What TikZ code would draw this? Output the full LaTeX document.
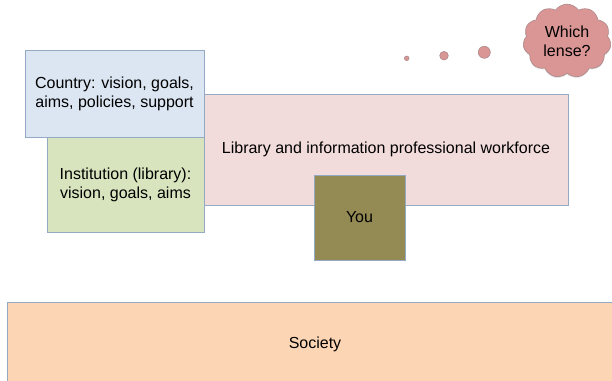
\documentclass[tikz,border=0pt]{standalone}
\usepackage{fontspec}
\setmainfont{Liberation Sans}
\usetikzlibrary{shapes.symbols,shadows}

\definecolor{edgeblue}{HTML}{93A9C4}
\definecolor{countryfill}{HTML}{DCE6F2}
\definecolor{instfill}{HTML}{D7E4BD}
\definecolor{workfill}{HTML}{F2DCDB}
\definecolor{youfill}{HTML}{948A54}
\definecolor{societyfill}{HTML}{FCD5B5}
\definecolor{thinkfill}{HTML}{D99694}
\definecolor{thinkedge}{HTML}{B98A8E}

\begin{document}
\begin{tikzpicture}[x=1pt,y=-1pt,
    every node/.style={font=\fontsize{16}{19.2}\selectfont, align=center, inner sep=0pt},
    lbox/.style={draw=edgeblue, line width=0.8pt, rectangle,
      drop shadow={shadow xshift=0pt, shadow yshift=-1.2pt, opacity=0.25}},
    bubble/.style={circle, draw=thinkedge!80!gray, line width=0.6pt, fill=thinkfill}]
  \useasboundingbox (0,0) rectangle (612,380);

  % the base layer
  \node[lbox, fill=societyfill, minimum width=616pt, minimum height=84pt]
    (society) at (315,344) {Society};

  % the three layers behind you
  \node[lbox, fill=workfill, minimum width=364pt, minimum height=111pt]
    (workforce) at (386,149.5) {Library and information professional workforce};
  \node[lbox, fill=instfill, minimum width=157pt, minimum height=95pt]
    (institution) at (125.5,184.5) {Institution (library):\\vision, goals, aims};
  \node[lbox, fill=countryfill, minimum width=179pt, minimum height=87pt]
    (country) at (114.5,93.5) {Country: vision, goals,\\aims, policies, support};
  \node[lbox, fill=youfill, minimum width=91pt, minimum height=85pt]
    (you) at (359.5,217.5) {You};

  % thought bubbles
  \node[bubble, minimum size=4.6pt] (dot1) at (406.7,58.3) {};
  \node[bubble, minimum size=8.6pt] (dot2) at (444,55.7) {};
  \node[bubble, minimum size=12pt] (dot3) at (484.3,52.3) {};
  \node[cloud, cloud puffs=11, cloud puff arc=110, draw=thinkedge!80!gray, line width=0.6pt,
    fill=thinkfill, minimum width=88pt, minimum height=56pt,
    drop shadow={shadow xshift=0pt, shadow yshift=-1.2pt, opacity=0.25}]
    (lense) at (567,41) {Which\\lense?};
\end{tikzpicture}
\end{document}
